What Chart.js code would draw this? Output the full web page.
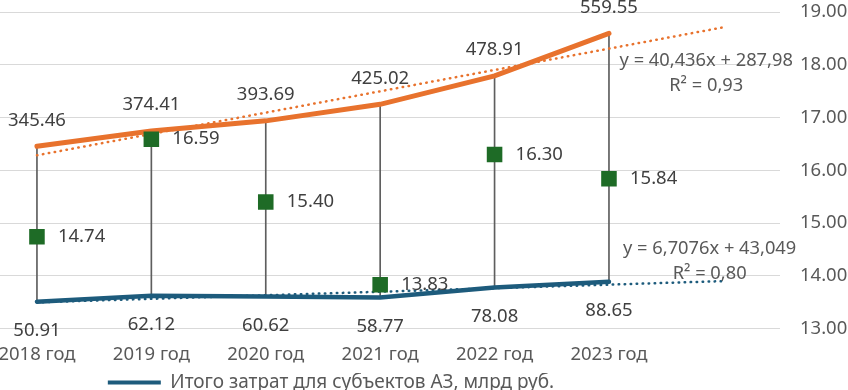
<!DOCTYPE html>
<html>
<head>
<meta charset="utf-8">
<script src="https://cdn.jsdelivr.net/npm/chart.js@4/dist/chart.umd.min.js"></script>
<style>
  html, body { margin: 0; padding: 0; background: #fff; }
  #wrap { width: 848px; height: 390px; }
</style>
</head>
<body>
<div id="wrap"><canvas id="chart"></canvas></div>
<script>
const years = ['2018 год', '2019 год', '2020 год', '2021 год', '2022 год', '2023 год'];
const totalCosts = [345.46, 374.41, 393.69, 425.02, 478.91, 559.55];
const subjectCosts = [50.91, 62.12, 60.62, 58.77, 78.08, 88.65];
const shareValues = [14.74, 16.59, 15.40, 13.83, 16.30, 15.84];
// trend lines: ends read from the equations shown (2018 .. one period past 2023)
const trendX = [0, 6];
const totalTrend = [328.42, 571.03];
const subjectTrend = [49.76, 90.00];
const totalTrendText = ['y = 40,436x + 287,98', 'R² = 0,93'];
const subjectTrendText = ['y = 6,7076x + 43,049', 'R² = 0,80'];

const FONT = '"Noto Sans", "Open Sans", sans-serif';
const ORANGE = '#e8722d';
const BLUE = '#1d5b7c';
const GREEN = '#1e6b26';

const pts = vals => vals.map((v, i) => ({ x: i, y: v }));
const trendPts = vals => vals.map((v, i) => ({ x: trendX[i], y: v }));

const valueLabels = {
  id: 'valueLabels',
  afterDatasetsDraw(chart) {
    const ctx = chart.ctx;
    ctx.save();
    ctx.font = '18.5px ' + FONT;
    ctx.fillStyle = '#404040';
    ctx.textBaseline = 'middle';
    chart.data.datasets.forEach((ds, i) => {
      if (!ds.labelPos) return;
      chart.getDatasetMeta(i).data.forEach((el, j) => {
        const txt = ds.data[j].y.toFixed(2);
        if (ds.labelPos === 'top') {
          ctx.textAlign = 'center';
          ctx.fillText(txt, el.x, el.y - 26);
        } else if (ds.labelPos === 'bottom') {
          ctx.textAlign = 'center';
          ctx.fillText(txt, el.x, el.y + 29);
        } else {
          ctx.textAlign = 'left';
          ctx.fillText(txt, el.x + 21, el.y);
        }
      });
    });
    // trend equations
    const xs = chart.scales.x, ys = chart.scales.y;
    ctx.font = '18.3px ' + FONT;
    ctx.textAlign = 'center';
    ctx.fillStyle = '#595959';
    const notes = [
      { text: totalTrendText, x: 5.85, y: [508, 460] },
      { text: subjectTrendText, x: 5.88, y: [152, 104] }
    ];
    notes.forEach(n => n.text.forEach((t, k) => {
      ctx.fillText(t, xs.getPixelForValue(n.x), ys.getPixelForValue(n.y[k]));
    }));
    ctx.restore();
  }
};

const legendShift = {
  id: 'legendShift',
  afterLayout(chart) {
    chart.legend.left -= 93;
    chart.legend.right -= 93;
  }
};

new Chart(document.getElementById('chart'), {
  type: 'line',
  data: {
    datasets: [
      {
        type: 'scatter', label: 'Доля', data: pts(shareValues), yAxisID: 'y1',
        showLine: false, pointStyle: 'rect', pointRadius: 11, pointHoverRadius: 11,
        backgroundColor: GREEN, borderWidth: 0, labelPos: 'right', order: 0
      },
      {
        label: 'Итого затрат для субъектов АЗ, млрд руб.', data: pts(subjectCosts), yAxisID: 'y',
        borderColor: BLUE, backgroundColor: BLUE, borderWidth: 4.5, pointRadius: 0,
        borderCapStyle: 'round', labelPos: 'bottom', order: 1
      },
      {
        label: 'Итого затрат, млрд руб.', data: pts(totalCosts), yAxisID: 'y',
        borderColor: ORANGE, backgroundColor: ORANGE, borderWidth: 5, pointRadius: 0,
        borderCapStyle: 'round', labelPos: 'top', order: 1
      },
      {
        label: 'trend1', data: trendPts(totalTrend), yAxisID: 'y',
        borderColor: ORANGE, borderWidth: 2.5, borderDash: [0.5, 5.5], borderCapStyle: 'round',
        pointRadius: 0, order: 2
      },
      {
        label: 'trend2', data: trendPts(subjectTrend), yAxisID: 'y',
        borderColor: BLUE, borderWidth: 2.5, borderDash: [0.5, 5.5], borderCapStyle: 'round',
        pointRadius: 0, order: 2
      },
      {
        type: 'bar', label: 'drop', yAxisID: 'y',
        data: years.map((_, i) => ({ x: i, y: [subjectCosts[i], totalCosts[i]] })),
        backgroundColor: '#5e5e5e', barThickness: 1, order: 3
      }
    ]
  },
  options: {
    responsive: true,
    maintainAspectRatio: false,
    animation: false,
    layout: { autoPadding: false, padding: { top: 12, left: 0, right: 0, bottom: -12 } },
    scales: {
      x: {
        type: 'linear', min: -0.323, max: 6.495, offset: false,
        grid: { display: false, offset: false, drawTicks: false },
        border: { display: false },
        afterBuildTicks: s => { s.ticks = years.map((_, i) => ({ value: i })); },
        afterFit: s => { s.paddingLeft = 0; s.paddingRight = 0; s.height = 44.4; },
        ticks: {
          autoSkip: false, maxRotation: 0, padding: 15,
          color: '#595959', font: { family: FONT, size: 18.5 },
          callback: v => years[v] || ''
        }
      },
      y: { display: false, min: 0, max: 600 },
      y1: {
        position: 'right', min: 13, max: 19,
        grid: { color: '#d9d9d9', drawTicks: false },
        border: { display: false },
        afterFit: s => { s.width = 68; s.paddingTop = 0; s.paddingBottom = 0; },
        ticks: {
          stepSize: 1, padding: 20, color: '#595959', font: { family: FONT, size: 18.5 },
          callback: v => v.toFixed(2)
        }
      }
    },
    plugins: {
      tooltip: { enabled: false },
      legend: {
        position: 'bottom',
        labels: {
          boxWidth: 53, boxHeight: 4, padding: 0,
          color: '#595959', font: { family: FONT, size: 19 },
          filter: item => item.datasetIndex === 1,
          generateLabels: chart => Chart.defaults.plugins.legend.labels.generateLabels(chart)
            .map(l => Object.assign(l, { lineWidth: 0, fillStyle: BLUE }))
        }
      }
    }
  },
  plugins: [valueLabels, legendShift]
});
</script>
</body>
</html>
